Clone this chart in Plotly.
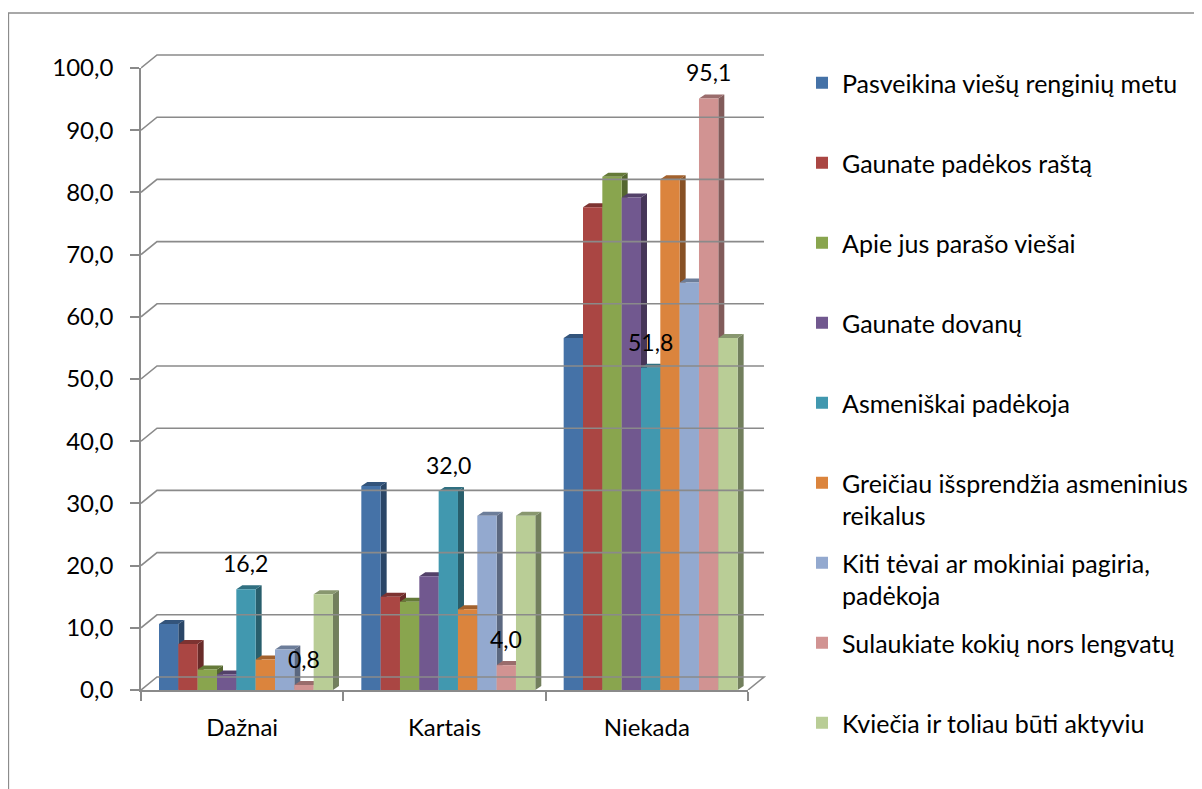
import plotly.graph_objects as go

# ---------------- data ----------------
categories = ["Dažnai", "Kartais", "Niekada"]
series_names = [
    "Pasveikina viešų renginių metu",
    "Gaunate padėkos raštą",
    "Apie jus parašo viešai",
    "Gaunate dovanų",
    "Asmeniškai padėkoja",
    "Greičiau išsprendžia asmeninius<br>reikalus",
    "Kiti tėvai ar mokiniai pagiria,<br>padėkoja",
    "Sulaukiate kokių nors lengvatų",
    "Kviečia ir toliau būti aktyviu",
]
pasveikina = [10.6, 32.8, 56.6]
padekos_rastas = [7.4, 15.0, 77.6]
paraso_viesai = [3.3, 14.2, 82.5]
dovanos = [2.5, 18.3, 79.2]
asmeniskai = [16.2, 32.0, 51.8]
issprendzia = [4.9, 13.0, 82.1]
kiti_tevai = [6.5, 28.0, 65.5]
lengvatos = [0.8, 4.0, 95.1]
kviecia = [15.4, 28.0, 56.6]
series_values = [pasveikina, padekos_rastas, paraso_viesai, dovanos, asmeniskai,
                 issprendzia, kiti_tevai, lengvatos, kviecia]
labelled_series = [4, 7]
y_ticks = [0, 10, 20, 30, 40, 50, 60, 70, 80, 90, 100]

# ---------------- style ----------------
colors = ["#4572A7", "#AA4643", "#89A54E", "#71588F", "#4198AF",
          "#DB843D", "#93A9CF", "#D19392", "#B9CD96"]
GRAY = "#8A8A8A"
FONT = "Lato, Calibri, sans-serif"
FS_TICK = 24
FS_LEG = 25
FS_LABEL = 23


def shade(hexc, f):
    r, g, b = (int(hexc[k:k + 2], 16) for k in (1, 3, 5))
    return f"rgb({int(r * f)},{int(g * f)},{int(b * f)})"


# geometry (pixels, page offset of the default body margin removed)
OFF = 8
FIG_W, FIG_H = 1202, 789
L_PX, R_PX, T_PX, B_PX = 141 - OFF, 771 - OFF, 50 - OFF, 690 - OFF
FRONT_R_PX = 748 - OFF
PX_X = (FRONT_R_PX - L_PX) / 3.0
PX_Y = 6.22
TOP100_PX = B_PX - 100 * PX_Y
area_w = R_PX - L_PX
area_h = B_PX - T_PX
xmax_big = -0.5 + area_w / PX_X
ymax_big = area_h / PX_Y

bar_w = 19.33 / PX_X
off0 = -0.5 + 18 / PX_X
bdx, bdy = 6 / PX_X, 4 / PX_Y
wdx, wdy = 16 / PX_X, 13 / PX_Y

fig = go.Figure()

# side / top faces of 3D bars (main axes, drawn below front faces)
for j, vals in enumerate(series_values):
    c = colors[j]
    sx, sy, tx, ty = [], [], [], []
    for i, v in enumerate(vals):
        xl = i + off0 + j * bar_w
        xr = xl + bar_w
        sx += [xr, xr + bdx, xr + bdx, xr, xr, None]
        sy += [0, bdy, v + bdy, v, 0, None]
        tx += [xl, xl + bdx, xr + bdx, xr, xl, None]
        ty += [v, v + bdy, v + bdy, v, v, None]
    fig.add_trace(go.Scatter(x=sx, y=sy, fill="toself", fillcolor=shade(c, 0.62),
                             mode="lines", line=dict(width=0), showlegend=False,
                             hoverinfo="skip"))
    fig.add_trace(go.Scatter(x=tx, y=ty, fill="toself", fillcolor=shade(c, 0.74),
                             mode="lines", line=dict(width=0), showlegend=False,
                             hoverinfo="skip"))

# front faces (overlay axes, drawn on top)
for j, (name, vals) in enumerate(zip(series_names, series_values)):
    label = name if "<br>" in name else name + "<br> "
    fig.add_trace(go.Bar(
        x=list(range(len(categories))), y=vals, name=label,
        width=bar_w, offset=off0 + j * bar_w,
        marker=dict(color=colors[j], line=dict(width=0)),
        xaxis="x2", yaxis="y2", legendgroup=f"g{j}",
        hovertext=[f"{categories[i]}: {vals[i]}" for i in range(len(vals))],
        hoverinfo="text",
    ))

# data labels
annotations = []
for j in labelled_series:
    for i, v in enumerate(series_values[j]):
        annotations.append(dict(
            x=i + off0 + j * bar_w + bar_w / 2, y=v, xref="x", yref="y",
            text=f"{v:.1f}".replace(".", ","), showarrow=False,
            yshift=26, yanchor="middle", xanchor="center",
            font=dict(family=FONT, size=FS_LABEL, color="black")))

# back-wall gridlines & floor (on a big helper subplot)
shapes = []
for v in y_ticks:
    path = (f"M {-0.5},{v} L {-0.5 + wdx},{v + wdy} L {2.5 + wdx},{v + wdy}")
    if v == 0:
        path += f" L {2.5},{0}"
    shapes.append(dict(type="path", path=path, xref="x3", yref="y3",
                       line=dict(color=GRAY, width=1.6), layer="below"))

# outer chart border (only top & left visible)
bx0 = (8.5 - OFF - L_PX) / area_w
by1 = (B_PX - (13 - OFF)) / area_h
shapes.append(dict(type="rect", xref="paper", yref="paper",
                   x0=bx0, x1=1.8, y0=-0.3, y1=by1,
                   line=dict(color="#8C8C8C", width=1.3), layer="below"))

dom_x = (FRONT_R_PX - L_PX) / area_w
dom_y = (B_PX - TOP100_PX) / area_h

LEG_X_PX = 796 - 2
LEG_Y_PX = 52

fig.update_layout(
    width=FIG_W, height=FIG_H,
    margin=dict(l=L_PX, r=FIG_W - R_PX, t=T_PX, b=FIG_H - B_PX, pad=0),
    paper_bgcolor="white", plot_bgcolor="rgba(0,0,0,0)",
    font=dict(family=FONT, size=FS_TICK, color="black"),
    separators=", ",
    barmode="overlay",
    showlegend=True,
    xaxis=dict(domain=[0, dom_x], range=[-0.5, 2.5], tickvals=[0, 1, 2],
               ticktext=categories, showgrid=False, zeroline=False,
               showline=True, linecolor=GRAY, linewidth=1.6, ticks="",
               ticklabelstandoff=15, anchor="y",
               tickfont=dict(family=FONT, size=FS_TICK, color="black"),
               minor=dict(tickvals=[-0.5, 0.5, 1.5, 2.5], ticks="outside",
                          ticklen=9, tickwidth=1.6, tickcolor=GRAY,
                          showgrid=False)),
    yaxis=dict(domain=[0, dom_y], range=[0, 100], tickvals=y_ticks,
               tickformat=".1f", ticks="outside", ticklen=9, tickwidth=1.6,
               tickcolor=GRAY, showgrid=False, zeroline=False, showline=True,
               linecolor=GRAY, linewidth=1.6, ticklabelstandoff=12, anchor="x",
               tickfont=dict(family=FONT, size=FS_TICK, color="black")),
    xaxis2=dict(overlaying="x", range=[-0.5, 2.5], visible=False),
    yaxis2=dict(overlaying="y", range=[0, 100], visible=False),
    xaxis3=dict(domain=[0, 1], range=[-0.5, xmax_big], visible=False,
                anchor="y3", fixedrange=True),
    yaxis3=dict(domain=[0, 1], range=[0, ymax_big], visible=False,
                anchor="x3", fixedrange=True),
    legend=dict(x=(LEG_X_PX - L_PX) / area_w, xanchor="left",
                y=(B_PX - LEG_Y_PX) / area_h, yanchor="top",
                valign="top", tracegroupgap=12, traceorder="grouped",
                maxheight=760,
                font=dict(family=FONT, size=FS_LEG, color="black"),
                bgcolor="rgba(0,0,0,0)", borderwidth=0),
    annotations=annotations,
    shapes=shapes,
)

fig.write_html("out.html")
